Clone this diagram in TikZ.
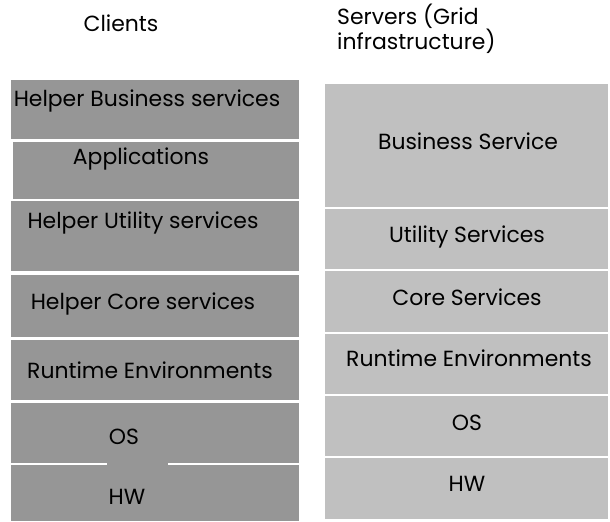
\documentclass[tikz,border=0pt]{standalone}
\usepackage{fontspec}
\setmainfont{Poppins}
\definecolor{clientgray}{RGB}{150,150,150}
\definecolor{servergray}{RGB}{192,192,192}
\begin{document}
\begin{tikzpicture}[x=1bp, y=-1bp,
  client/.style={fill=clientgray, anchor=north west, inner sep=0pt},
  server/.style={fill=servergray, anchor=north west, inner sep=0pt, minimum width=283bp},
  lbl/.style={font=\fontsize{22}{25}\selectfont, inner sep=0pt}]
\useasboundingbox (0,0) rectangle (610,522);

% Titles
\node[lbl] (clients) at (121,23) {Clients};
\node[lbl, align=left, anchor=north west] (servers) at (337,4) {Servers (Grid\\infrastructure)};

% Client stack
\node[client, minimum width=288bp, minimum height=59bp] (hbs) at (11,80) {};
\node[client, minimum width=286bp, minimum height=57bp] (app) at (13,142) {};
\node[client, minimum width=288bp, minimum height=70bp] (hus) at (11,201) {};
\node[client, minimum width=288bp, minimum height=62bp] (hcs) at (11,275) {};
\node[client, minimum width=288bp, minimum height=60bp] (lre) at (11,340) {};
\node[client, minimum width=288bp, minimum height=60bp] (los) at (11,403) {};
\node[client, minimum width=288bp, minimum height=56bp] (lhw) at (11,465) {};
\fill[clientgray] (107,462) rectangle (168,466);

\node[lbl] (hbstext) at (147,101) {Helper Business services};
\node[lbl] (apptext) at (141,159) {Applications};
\node[lbl] (hustext) at (143,223) {Helper Utility services};
\node[lbl] (hcstext) at (143,304) {Helper Core services};
\node[lbl] (lretext) at (150,370) {Runtime Environments};
\node[lbl] (lostext) at (124,437) {OS};
\node[lbl] (lhwtext) at (127,497) {HW};

% Server stack
\node[server, minimum height=123bp] (bs) at (325,84) {};
\node[server, minimum height=60bp] (us) at (325,209) {};
\node[server, minimum height=61bp] (cs) at (325,271) {};
\node[server, minimum height=60bp] (rre) at (325,334) {};
\node[server, minimum height=60bp] (ros) at (325,396) {};
\node[server, minimum height=61bp] (rhw) at (325,458) {};

\node[lbl] (bstext) at (468,141) {Business Service};
\node[lbl] (ustext) at (467,237) {Utility Services};
\node[lbl] (cstext) at (467,297) {Core Services};
\node[lbl] (rretext) at (469,358) {Runtime Environments};
\node[lbl] (rostext) at (467,423) {OS};
\node[lbl] (rhwtext) at (467,484) {HW};
\end{tikzpicture}
\end{document}
